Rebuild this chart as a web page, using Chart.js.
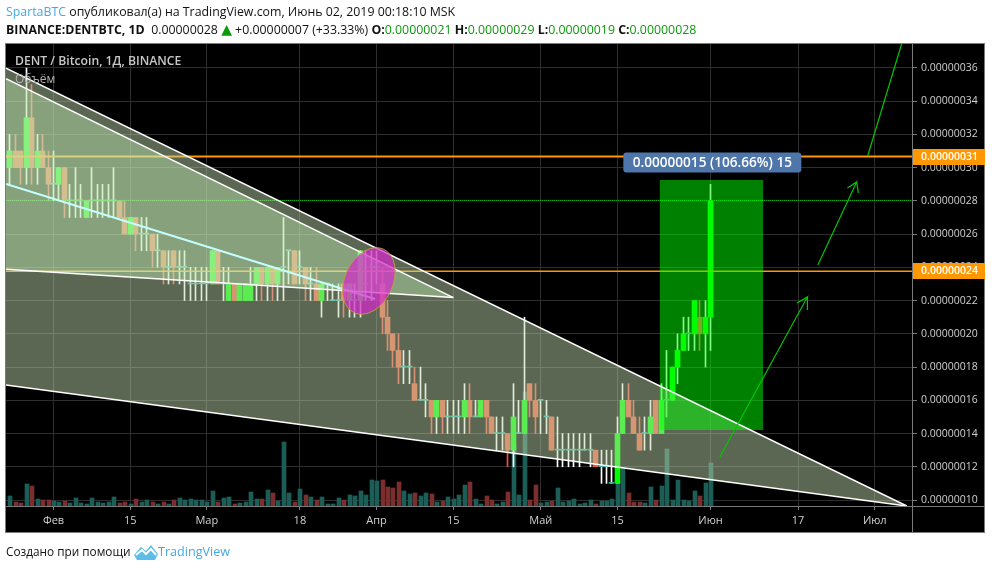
<!DOCTYPE html>
<html>
<head>
<meta charset="utf-8">
<title>DENT / Bitcoin</title>
<script src="https://cdn.jsdelivr.net/npm/chart.js@4/dist/chart.umd.js"></script>
<style>
  html, body { margin: 0; padding: 0; background: #fff; }
  body { width: 992px; height: 570px; position: relative; overflow: hidden; font-family: "Open Sans", sans-serif; color: #111; }
  canvas { position: absolute; left: 0; top: 0; }
  .txt { position: absolute; white-space: nowrap; }
  .blue { color: #45a9e4; }
  .up { color: #0a9a0a; }
  .tri { font-family: "DejaVu Sans"; font-size: 14px; line-height: 12px; }
</style>
</head>
<body>
<canvas id="chart" width="992" height="570"></canvas>
<div class="txt" style="left:6px;top:3px;font-size:12.35px"><span class="blue">SpartaBTC</span> опубликовал(а) на TradingView.com, Июнь 02, 2019 00:18:10 MSK</div>
<div class="txt" style="left:6px;top:21px;font-size:12.35px"><b>BINANCE:DENTBTC, 1D</b>&nbsp; 0.00000028 <span class="up tri">▲</span> +0.00000007 (+33.33%) <b>O:</b><span class="up">0.00000021</span> <b>H:</b><span class="up">0.00000029</span> <b>L:</b><span class="up">0.00000019</span> <b>C:</b><span class="up">0.00000028</span></div>
<div class="txt" style="left:15px;top:52px;font-size:12.2px;font-weight:600;color:#c8c8c8">DENT / Bitcoin, 1Д, BINANCE</div>
<div class="txt" style="left:15px;top:70px;font-size:12px;color:#b4b4b4">Объём</div>
<div class="txt" style="left:6px;top:543px;font-size:11.8px">Создано при помощи</div>
<svg class="txt" style="left:134px;top:545px" width="24" height="15" viewBox="0 0 24 15"><path d="M0 10 L7 2 L12 6 L17 0 L24 9 L21 15 L3 15 Z" fill="#5cbde8"/><path d="M2 10 L8 5 L12 9 L17 4 L22 10" fill="none" stroke="#fff" stroke-width="2"/></svg>
<div class="txt blue" style="left:158px;top:543px;font-size:12.6px">TradingView</div>

<script>
// price in satoshi, one candle per day, day 0 = 1 Feb
const firstDay = -8
const opens = [
  30,31,31,30,33,30,31,30, 29,29,30,28,28,28,27,28, 28,28,28,28,28,27,26,27, 26,26,26,25,25,24,25,24,
  24,23,23,23,23,23,25,23, 22,23,22,22,22,23,24,23, 24,23,24,25,25,24,24,23, 23,22,23,22,22,23,22,22,
  22,23,24,24,23,21,20,19, 18,18,17,16,16,16,15,16, 15,15,15,15,16,15,15,16, 15,14,14,14,13,14,14,17,
  16,16,15,15,13,13,13,13, 13,13,13,13,12,12,11,11, 14,16,15,14,14,14,16,14, 16,16,18,19,20,20,21,20, 21
]
const highs = [
  32,32,31,36,35,32,32,31, 31,30,30,29,30,29,28,30, 29,29,29,30,28,28,27,27, 27,27,26,26,25,25,25,25,
  25,24,24,24,24,25,25,24, 24,23,23,23,24,24,24,24, 24,24,27,25,25,25,24,24, 24,23,23,23,23,23,23,23,
  25,25,25,25,24,22,20,20, 19,19,18,18,17,16,16,16, 16,16,16,17,17,16,16,16, 15,15,15,14,17,16,21,17,
  17,16,16,15,15,14,14,14, 14,14,14,13,13,13,13,15, 17,17,16,15,15,16,16,17, 19,18,20,21,21,22,22,22, 29
]
const lows = [
  29,30,29,29,29,29,30,28, 28,28,27,27,27,27,27,27, 27,27,27,27,27,26,26,25, 25,25,24,24,23,23,23,23,
  22,22,22,22,22,23,23,22, 22,22,22,22,22,22,22,22, 22,22,22,23,23,23,22,22, 22,21,22,22,21,21,21,21,
  21,22,22,23,20,19,18,17, 17,17,16,16,15,14,14,14, 14,14,14,14,14,15,15,14, 14,13,13,12,12,14,14,15,
  14,14,14,13,12,12,12,12, 12,13,12,12,11,11,11,11, 14,15,14,13,13,13,14,14, 15,16,17,19,19,19,19,18, 19
]
const closes = [
  31,30,30,33,30,31,30,29, 29,30,28,28,28,28,28,28, 28,28,28,28,27,26,27,26, 26,26,25,25,24,24,24,24,
  24,23,23,23,23,25,23,23, 23,22,23,23,23,24,23,24, 23,24,24,25,23,24,23,23, 22,23,23,22,22,22,23,22,
  25,23,24,24,21,20,19,18, 18,18,16,16,16,15,16,15, 15,15,15,16,15,15,16,15, 14,14,14,13,15,14,16,16,
  15,16,15,13,13,13,13,13, 13,13,13,12,12,12,11,14, 16,15,14,13,14,15,14,16, 16,18,19,20,20,22,20,21, 28
]
const volumes = [10,4,3,22,20,7,6,6,5,4,5,3,8,3,2,8,4,3,4,9,3,4,2,7,4,6,4,2,4,2,6,8,6,7,6,6,4,15,4,8,9,2,3,4,14,7,7,16,13,5,64,13,4,17,11,9,6,9,2,2,8,6,11,10,15,11,26,25,26,19,18,24,15,12,13,10,13,12,4,5,9,7,11,21,24,7,2,10,6,2,4,14,60,11,114,6,21,3,4,5,18,4,5,7,2,3,6,2,5,5,7,25,38,13,4,4,3,19,6,20,57,6,26,6,5,15,10,23,43]

const xTickDays = [0,14,28,45,59,73,89,103,120,136,150]
const xTickLabels = ['Фев','15','Мар','18','Апр','15','Май','15','Июн','17','Июл']
const yTickValues = [10,12,14,16,18,20,22,24,26,28,30,32,34,36]

// drawings on the chart, in day / satoshi
const wedgeTop = [[-8.68,35.98],[155.84,9.64]]
const wedgeLow = [[-8.68,16.92],[155.84,9.64]]
const triTop = [[-8.68,35.36],[73.02,22.18]]
const triLow = [[-8.68,23.88],[73.02,22.18]]
const cyanLine = [[-8.68,29.02],[58.72,22.10]]
const measureDays = [110.7,129.6]
const measurePrices = [29.26,14.21]
const orangeLevels = [30.67,23.76]
const orangeLabels = ['0.00000031','0.00000024']
const greenLevel = 28.03
const arrowOne = [[121.7,12.59],[137.7,22.22],[135.8,21.86],[137.7,22.22],[137.7,21.44]]
const arrowTwo = [[139.6,24.14],[146.7,29.14],[145.0,28.78],[146.7,29.14],[147.0,28.48]]
const arrowThree = [[148.7,30.70],[154.9,37.44]]
const ellipseCenter = [57.6,23.18]
const measureText = '0.00000015 (106.66%) 15'

const xMin = -8.68
const xMax = 156.8
const pts = rows => rows.map(r => ({ x: r[0], y: r[1] }))

const dayOf = i => firstDay + i
const isUp = i => closes[i] >= opens[i]
const allIdx = opens.map((_, i) => i)
const bodyData = test => allIdx.filter(test).map(i => ({ x: dayOf(i), y: [opens[i], closes[i]] }))
const wickData = test => allIdx.filter(test).map(i => ({ x: dayOf(i), y: [lows[i], highs[i]] }))

const barBase = { grouped: false, yAxisID: 'y', borderWidth: 0 }

const fillSet = (rows, target, color, order) => ({
  type: 'line', data: pts(rows), fill: target, backgroundColor: color,
  borderWidth: 0, borderColor: 'transparent', pointRadius: 0, tension: 0, order
})
const lineSet = (rows, color, width, order, dash) => ({
  type: 'line', data: pts(rows), fill: false, borderColor: color, borderWidth: width,
  borderDash: dash || [], pointRadius: 0, tension: 0, order
})

const datasets = [
  // volume
  { ...barBase, yAxisID: 'yV', data: volumes.map((v, i) => ({ x: dayOf(i), y: v })),
    backgroundColor: volumes.map((_, i) => isUp(i) ? '#1b5e57' : '#7b2e2e'), barThickness: 4, order: 100 },
  // candles
  { ...barBase, data: wickData(i => isUp(i)), backgroundColor: '#ffffff', barThickness: 1, order: 90 },
  { ...barBase, data: wickData(i => !isUp(i)), backgroundColor: '#f0504a', barThickness: 1, order: 90 },
  { ...barBase, data: bodyData(i => closes[i] > opens[i]), backgroundColor: '#00ff00', barThickness: 5, order: 80 },
  { ...barBase, data: bodyData(i => closes[i] < opens[i]), backgroundColor: '#ee5a3e', barThickness: 5, order: 80 },
  { ...barBase, data: bodyData(i => closes[i] === opens[i]), backgroundColor: '#35b5a5', barThickness: 5, minBarLength: 1, order: 78 },
  // levels below the shading
  lineSet([[xMin, orangeLevels[0]], [xMax, orangeLevels[0]]], '#ff9800', 2, 70),
  lineSet([[xMin, orangeLevels[1]], [xMax, orangeLevels[1]]], '#ff9800', 1.5, 70),
  lineSet([[xMin, greenLevel], [xMax, greenLevel]], '#10c010', 1, 70, [1, 1]),
  // big wedge
  fillSet(wedgeTop, '+1', 'rgba(190,215,171,0.48)', 60),
  fillSet(wedgeLow, false, 'transparent', 60),
  // upper triangle
  fillSet(triTop, '+1', 'rgba(205,250,190,0.4)', 50),
  fillSet(triLow, false, 'transparent', 50),
  // measure box
  fillSet([[measureDays[0], measurePrices[0]], [measureDays[1], measurePrices[0]]], '+1', 'rgba(0,255,0,0.5)', 40),
  fillSet([[measureDays[0], measurePrices[1]], [measureDays[1], measurePrices[1]]], false, 'transparent', 40),
  // trend lines
  lineSet(wedgeTop, '#ffffff', 1.5, 30),
  lineSet(wedgeLow, '#ffffff', 1.5, 30),
  lineSet(triTop, '#ffffff', 1.5, 30),
  lineSet(triLow, '#ffffff', 1.5, 30),
  lineSet(cyanLine, '#c4ffff', 2, 30),
  lineSet(arrowOne, '#00c800', 1.2, 20),
  lineSet(arrowTwo, '#00c800', 1.2, 20),
  lineSet(arrowThree, '#00c800', 1.2, 20)
]

const overlayPlugin = {
  id: 'overlay',
  beforeDraw(chart) {
    const { ctx, chartArea: a } = chart
    ctx.save()
    ctx.fillStyle = '#000'
    ctx.fillRect(a.left, a.top, 985 - a.left, 533 - a.top)
    ctx.restore()
  },
  // keep candles crisp, the bars land on fractions of a pixel
  beforeDatasetsDraw(chart) {
    chart.getSortedVisibleDatasetMetas().forEach(meta => {
      if (meta.type !== 'bar') return
      meta.data.forEach(el => { el.x = Math.round(el.x - 0.5) + (el.width === 4 ? 1 : 0.5) })
    })
  },
  afterDatasetsDraw(chart) {
    const { ctx, scales } = chart
    const cx = scales.x.getPixelForValue(ellipseCenter[0])
    const cy = scales.y.getPixelForValue(ellipseCenter[1])
    ctx.save()
    ctx.beginPath()
    ctx.ellipse(cx, cy, 24, 35, 25 * Math.PI / 180, 0, Math.PI * 2)
    ctx.fillStyle = 'rgba(215,40,205,0.7)'
    ctx.fill()
    ctx.strokeStyle = 'rgba(190,160,60,0.9)'
    ctx.lineWidth = 1
    ctx.stroke()
    ctx.restore()

    // measure tag
    const tagX = (scales.x.getPixelForValue(measureDays[0]) + scales.x.getPixelForValue(measureDays[1])) / 2 + 1
    const tagY = 162.5
    ctx.save()
    ctx.fillStyle = '#4f76aa'
    ctx.beginPath()
    ctx.roundRect(tagX - 89, tagY - 10, 178, 20, 3)
    ctx.fill()
    ctx.fillStyle = '#fff'
    ctx.font = '600 13.6px "Open Sans"'
    ctx.textAlign = 'center'
    ctx.textBaseline = 'middle'
    ctx.fillText(measureText, tagX, tagY + 0.5)
    ctx.restore()
  },
  afterDraw(chart) {
    const { ctx, chartArea: a, scales } = chart
    ctx.save()
    // frame
    ctx.strokeStyle = '#7a7a7a'
    ctx.lineWidth = 1
    ctx.strokeRect(a.left - 0.5, a.top - 0.5, 985 - a.left, 533 - a.top)
    ctx.beginPath()
    ctx.moveTo(a.right + 0.5, a.top)
    ctx.lineTo(a.right + 0.5, 533)
    ctx.moveTo(a.left, a.bottom + 0.5)
    ctx.lineTo(985, a.bottom + 0.5)
    ctx.stroke()
    // orange price labels
    orangeLevels.forEach((lv, i) => {
      const y = Math.round(scales.y.getPixelForValue(lv))
      ctx.fillStyle = '#ff9800'
      ctx.fillRect(a.right + 1, y - 8, 72, 16)
      ctx.fillStyle = '#fff'
      ctx.font = '600 10.5px "Open Sans"'
      ctx.textBaseline = 'middle'
      ctx.fillText(orangeLabels[i], a.right + 9, y + 0.5)
    })
    ctx.restore()
  }
}

new Chart(document.getElementById('chart'), {
  type: 'bar',
  data: { datasets },
  plugins: [overlayPlugin],
  options: {
    responsive: false,
    animation: false,
    events: [],
    layout: { padding: { left: 6, top: 44, right: 7, bottom: 37 } },
    plugins: { legend: { display: false }, tooltip: { enabled: false } },
    scales: {
      x: {
        type: 'linear', min: xMin, max: xMax, offset: false,
        grid: { color: '#2e2e2e', offset: false, tickLength: 4, tickColor: '#7a7a7a' },
        border: { display: false },
        afterBuildTicks: axis => { axis.ticks = xTickDays.map(v => ({ value: v })) },
        afterFit: axis => { axis.height = 27 },
        ticks: {
          autoSkip: false, maxRotation: 0, color: '#d0d0d0', padding: 4,
          font: { family: 'Open Sans', size: 11 },
          callback: v => xTickLabels[xTickDays.indexOf(v)]
        }
      },
      y: {
        position: 'right', min: 9.64, max: 37.44,
        grid: { color: '#2e2e2e', tickLength: 5, tickColor: '#7a7a7a' },
        border: { display: false },
        afterBuildTicks: axis => { axis.ticks = yTickValues.map(v => ({ value: v })) },
        afterFit: axis => { axis.width = 73 },
        ticks: {
          color: '#d0d0d0', padding: 4, crossAlign: 'near',
          font: { family: 'Open Sans', size: 10.5 },
          callback: v => '0.000000' + v
        }
      },
      yV: { display: false, min: 0, max: 462 }
    }
  }
})
</script>
</body>
</html>
